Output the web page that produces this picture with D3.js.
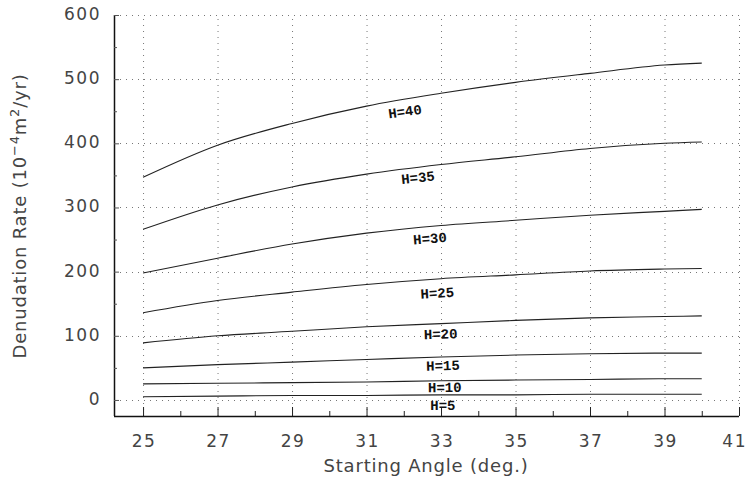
<!DOCTYPE html>
<html>
<head>
<meta charset="utf-8">
<script src="https://cdn.jsdelivr.net/npm/d3@7/dist/d3.min.js"></script>
<style>
  html, body { margin: 0; padding: 0; background: #fff; }
  svg { display: block; }
  .tick-lab { font-family: "DejaVu Sans", sans-serif; font-size: 17px; fill: #444; letter-spacing: 1.5px; }
  .title { font-family: "DejaVu Sans", sans-serif; font-size: 18px; fill: #444; letter-spacing: 0.8px; }
  .hlab { font-family: "Liberation Mono", "DejaVu Sans Mono", monospace; font-size: 14px; font-weight: bold; fill: #111; }
</style>
</head>
<body>
<svg id="chart" width="748" height="480"></svg>
<script>
// ---- data ----
const angles = [25, 27, 29, 31, 33, 35, 37, 39, 40];
const H40 = [347, 397, 431, 458, 478, 495, 509, 522, 525];
const H35 = [266, 304, 332, 352, 367, 379, 392, 400, 402];
const H30 = [198, 221, 243, 260, 272, 280, 288, 294, 297];
const H25 = [136, 155, 168, 180, 189, 195, 201, 204, 205];
const H20 = [89, 100, 107, 114, 119, 124, 128, 130, 131];
const H15 = [50, 55, 59, 63, 67, 70, 72, 73, 73];
const H10 = [25, 26, 27, 28, 30, 31, 32, 33, 33];
const H5  = [5, 6, 7, 7, 8, 8, 9, 9, 9];
const seriesNames = ["H=40", "H=35", "H=30", "H=25", "H=20", "H=15", "H=10", "H=5"];
const seriesValues = [H40, H35, H30, H25, H20, H15, H10, H5];
const labelAngle = [32.03, 32.38, 32.7, 32.9, 32.99, 33.05, 33.1, 33.05];
const labelValue = [450, 347, 252, 167, 103, 54, 20, -8];
const xTicks = [25, 27, 29, 31, 33, 35, 37, 39, 41];
const yTicks = [0, 100, 200, 300, 400, 500, 600];
const xTitle = "Starting Angle (deg.)";

// ---- layout ----
const svg = d3.select("#chart");
const mLeft = 114, mRight = 739, mTop = 15, mBottom = 416;
const x = d3.scaleLinear().domain([24.22, 41]).range([mLeft, mRight]);
const y = d3.scaleLinear().domain([-25, 600]).range([mBottom, mTop]);

// grid
const grid = svg.append("g").attr("stroke", "#777").attr("stroke-width", 1)
  .attr("stroke-dasharray", "1,5");
grid.selectAll("line.v").data(xTicks).enter().append("line")
  .attr("x1", d => x(d) + 0.5).attr("x2", d => x(d) + 0.5)
  .attr("y1", mBottom).attr("y2", y(600));
grid.selectAll("line.h").data(yTicks).enter().append("line")
  .attr("x1", mLeft).attr("x2", mRight)
  .attr("y1", d => Math.round(y(d)) + 0.5).attr("y2", d => Math.round(y(d)) + 0.5);

// axes
const xAxis = d3.axisBottom(x).tickValues(d3.range(25, 42, 1)).tickSize(-7).tickFormat("");
const gx = svg.append("g").attr("transform", `translate(0,${mBottom})`).call(xAxis);
gx.select(".domain").attr("d", `M${mLeft},0.5H${mRight}`).attr("stroke", "#111").attr("stroke-width", 1.5);
gx.selectAll(".tick line").attr("stroke", "#222")
  .attr("y2", d => (d % 2 === 1 ? -9 : -5));

const yAxis = d3.axisLeft(y).tickValues(d3.range(0, 601, 50)).tickSize(-4).tickFormat("");
const gy = svg.append("g").attr("transform", `translate(${mLeft},0)`).call(yAxis);
gy.select(".domain").attr("d", `M0.5,${y(600)}V${mBottom}`).attr("stroke", "#111").attr("stroke-width", 1.5);
gy.selectAll(".tick line").attr("stroke", "#555").attr("x2", d => (d % 100 === 0 ? 5 : 3));

// tick labels
svg.append("g").selectAll("text").data(xTicks).enter().append("text")
  .attr("class", "tick-lab")
  .attr("x", d => (d === 41 ? 747 : x(d) + 1))
  .attr("y", 447)
  .attr("text-anchor", d => (d === 41 ? "end" : "middle")).text(d => d);
svg.append("g").selectAll("text").data(yTicks).enter().append("text")
  .attr("class", "tick-lab").attr("x", 101).attr("y", d => y(d) + 5)
  .attr("text-anchor", "end").text(d => d);

// titles
svg.append("text").attr("class", "title").attr("x", 426).attr("y", 472)
  .attr("text-anchor", "middle").text(xTitle);
const yt = svg.append("text").attr("class", "title")
  .attr("transform", "translate(26,216) rotate(-90)").attr("text-anchor", "middle");
yt.append("tspan").text("Denudation Rate (10");
yt.append("tspan").attr("dy", -7).attr("font-size", 13).text("−4");
yt.append("tspan").attr("dy", 7).text("m");
yt.append("tspan").attr("dy", -7).attr("font-size", 13).text("2");
yt.append("tspan").attr("dy", 7).text("/yr)");

// curves
const line = d3.line().x(d => x(d[0])).y(d => y(d[1])).curve(d3.curveMonotoneX);
seriesValues.forEach((vals, i) => {
  const pts = angles.map((a, j) => [a, vals[j]]);
  svg.append("path").datum(pts).attr("d", line)
    .attr("fill", "none").attr("stroke", "#222").attr("stroke-width", 1.1);
});

// labels, rotated along the local curve slope
seriesValues.forEach((vals, i) => {
  const a0 = 31, a1 = 33;
  const v0 = vals[angles.indexOf(a0)], v1 = vals[angles.indexOf(a1)];
  const ang = Math.atan2(y(v1) - y(v0), x(a1) - x(a0)) * 180 / Math.PI * 0.8;
  const lx = x(labelAngle[i]), ly = y(labelValue[i]);
  svg.append("text").attr("class", "hlab")
    .attr("transform", `translate(${lx},${ly}) rotate(${ang})`)
    .attr("text-anchor", "middle").attr("dy", "0.35em")
    .text(seriesNames[i]);
});
</script>
</body>
</html>
